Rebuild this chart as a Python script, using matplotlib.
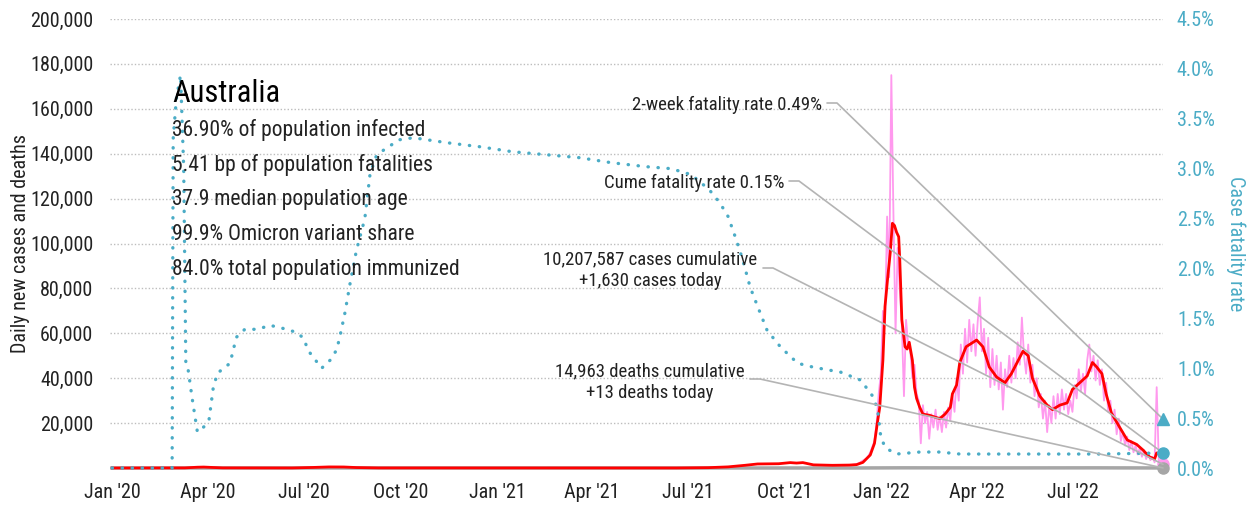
import matplotlib
matplotlib.use('Agg')
import matplotlib.pyplot as plt
import matplotlib.dates as mdates
import matplotlib.ticker as mticker
import pandas as pd

plt.rcParams['font.family'] = ['Roboto Condensed', 'Archivo Narrow', 'Barlow Semi Condensed', 'DejaVu Sans']

# --- data ---
end_date = '2022-09-25'

# 7-day average of new cases (red)
avg_dates = ['2020-01-01', '2020-03-10', '2020-03-22', '2020-03-28', '2020-04-05', '2020-04-15',
             '2020-06-20', '2020-07-10', '2020-07-25', '2020-08-08', '2020-08-20', '2020-09-10',
             '2021-06-20', '2021-07-20', '2021-08-08', '2021-08-24', '2021-09-05', '2021-09-25',
             '2021-10-06', '2021-10-12', '2021-10-18', '2021-10-28', '2021-11-15', '2021-12-01',
             '2021-12-08', '2021-12-14', '2021-12-21', '2021-12-25', '2021-12-28', '2021-12-30',
             '2022-01-02', '2022-01-04', '2022-01-07', '2022-01-09', '2022-01-11', '2022-01-13',
             '2022-01-15', '2022-01-17', '2022-01-18', '2022-01-20', '2022-01-23', '2022-01-25',
             '2022-01-27', '2022-01-30', '2022-02-01', '2022-02-03', '2022-02-06', '2022-02-09',
             '2022-02-15', '2022-02-25', '2022-03-02', '2022-03-07', '2022-03-09', '2022-03-13',
             '2022-03-16', '2022-03-22', '2022-04-01', '2022-04-07', '2022-04-13', '2022-04-20',
             '2022-04-28', '2022-05-04', '2022-05-15', '2022-05-20', '2022-05-24', '2022-05-31',
             '2022-06-07', '2022-06-12', '2022-06-19', '2022-06-26', '2022-07-01', '2022-07-08',
             '2022-07-15', '2022-07-20', '2022-07-24', '2022-07-29', '2022-08-02', '2022-08-07',
             '2022-08-15', '2022-08-22', '2022-08-31', '2022-09-06', '2022-09-12', '2022-09-17',
             '2022-09-19', '2022-09-25']
avg_cases = [0, 50, 350, 420, 250, 60,
             20, 250, 480, 450, 200, 40,
             15, 150, 500, 1200, 1800, 1900,
             2400, 2200, 2400, 1400, 1200, 1300,
             1500, 2500, 5800, 11000, 21000, 27000,
             48000, 72000, 87000, 96000, 109000, 108000,
             105000, 103000, 93000, 66000, 54000, 53000,
             56000, 48000, 36000, 31000, 27000, 24000,
             23500, 22000, 24000, 27000, 33000, 37000,
             47000, 54000, 57000, 54000, 45000, 40500,
             38000, 42000, 52000, 50000, 40000, 32000,
             28000, 26000, 28000, 29000, 35000, 38000,
             41000, 47000, 45000, 42000, 33000, 24500,
             18000, 12500, 10500, 8000, 5000, 4000,
             6700, 6200]

# daily new cases (pink), every second day from 2021-12-01, in thousands
daily_start = '2021-12-01'
daily_cases_k = [1.2, 1.3, 1.5, 1.6, 1.9, 2.4, 3.0, 3.6, 4.2, 5.2,       # Dec 1 - Dec 19
                 7.0, 9.5, 12, 20, 33, 42, 70, 64, 112, 85,             # Dec 21 - Jan 8
                 175, 113, 60, 98, 80, 63, 32, 66, 55, 52,              # Jan 10 - Jan 28
                 40, 46, 33, 30, 11, 28, 20, 25, 13, 24,                # Jan 30 - Feb 17
                 18, 26, 17, 23, 16, 25, 18, 27, 21, 33,                # Feb 19 - Mar 9
                 25, 40, 30, 55, 42, 62, 47, 66, 52, 64,                # Mar 11 - Mar 29
                 50, 65, 76, 52, 62, 42, 58, 36, 53, 37,                # Mar 31 - Apr 18
                 50, 35, 47, 26, 44, 36, 50, 38, 49, 40,                # Apr 20 - May 8
                 56, 46, 67, 50, 42, 55, 38, 46, 32, 40,                # May 10 - May 28
                 27, 33, 22, 30, 16, 28, 20, 32, 22, 33,                # May 30 - Jun 17
                 24, 35, 26, 33, 24, 30, 25, 37, 31, 44,                # Jun 19 - Jul 7
                 34, 42, 33, 48, 55, 43, 50, 39, 48, 37,                # Jul 9 - Jul 27
                 44, 30, 38, 25, 30, 20, 26, 15, 22, 12,                # Jul 29 - Aug 16
                 16, 10, 14, 8, 12, 7, 10, 6, 9, 5,                     # Aug 18 - Sep 5
                 8, 4, 7, 3.5, 5, 2.5, 36, 3, 2, 1.63]                  # Sep 7 - Sep 25

# daily deaths (grey)
death_dates = ['2020-01-01', '2020-04-01', '2020-08-10', '2020-10-01', '2021-09-15',
               '2021-12-01', '2022-01-20', '2022-04-10', '2022-07-25', '2022-09-25']
deaths = [0, 3, 18, 2, 12, 2, 80, 40, 70, 13]

# case fatality rate, % (teal dotted)
cfr_dates = ['2020-01-01', '2020-02-27', '2020-02-28', '2020-03-02', '2020-03-06', '2020-03-09',
             '2020-03-11', '2020-03-13', '2020-03-15', '2020-03-17', '2020-03-22', '2020-03-29',
             '2020-04-02', '2020-04-06', '2020-04-10', '2020-04-22', '2020-04-28', '2020-05-06',
             '2020-05-18', '2020-05-30', '2020-06-11', '2020-06-24', '2020-07-01', '2020-07-05',
             '2020-07-18', '2020-07-26', '2020-08-01', '2020-08-04', '2020-08-09', '2020-08-14',
             '2020-08-20', '2020-08-28', '2020-09-02', '2020-09-08', '2020-09-14', '2020-09-21',
             '2020-09-30', '2020-10-13', '2020-11-14', '2020-12-15', '2021-01-15', '2021-02-16',
             '2021-03-20', '2021-04-19', '2021-05-22', '2021-06-15', '2021-07-04', '2021-07-21',
             '2021-07-31', '2021-08-08', '2021-08-16', '2021-08-22', '2021-08-29', '2021-09-05',
             '2021-09-14', '2021-09-27', '2021-10-13', '2021-10-28', '2021-11-23', '2021-12-12',
             '2021-12-24', '2021-12-28', '2021-12-31', '2022-01-04', '2022-01-08', '2022-01-15',
             '2022-02-06', '2022-02-25', '2022-03-16', '2022-04-23', '2022-07-27', '2022-09-25']
cfr = [0, 0, 3.3, 3.7, 3.94, 3.0,
       1.05, 1.0, 0.85, 0.7, 0.36, 0.42,
       0.48, 0.8, 0.95, 1.05, 1.31, 1.39,
       1.39, 1.43, 1.40, 1.36, 1.3, 1.18,
       1.0, 1.08, 1.18, 1.3, 1.55, 1.85,
       2.18, 2.5, 2.95, 3.13, 3.18, 3.23,
       3.29, 3.31, 3.26, 3.22, 3.17, 3.14,
       3.11, 3.06, 3.02, 3.0, 2.94, 2.79,
       2.66, 2.52, 2.28, 2.08, 1.81, 1.62,
       1.38, 1.21, 1.05, 1.01, 0.96, 0.88,
       0.71, 0.58, 0.31, 0.21, 0.18, 0.14,
       0.16, 0.16, 0.14, 0.14, 0.14, 0.15]

two_week_cfr = 0.49
cume_cfr = 0.15
cases_today = 1630
deaths_today = 13

title = 'Australia'
stats = ['36.90% of population infected',
         '5.41 bp of population fatalities',
         '37.9 median population age',
         '99.9% Omicron variant share',
         '84.0% total population immunized']

# --- styling ---
teal = '#4bacc6'
pink = '#ff99ee'
red = '#ff0000'
grey_line = '#b4b4b4'
grey_deaths = '#a6a6a6'
txt = '#222222'
fs = 14.5      # tick labels, axis titles
fs_note = 13.5  # leader line notes

W, H = 1251, 508
fig = plt.figure(figsize=(W / 100, H / 100), dpi=100)
ax = fig.add_axes([110 / W, (H - 468) / H, (1163 - 110) / W, (468 - 19) / H])
ax2 = ax.twinx()

end = pd.Timestamp(end_date)
daily_dates = pd.date_range(daily_start, periods=len(daily_cases_k), freq='2D')

ax.plot(pd.to_datetime(death_dates), deaths, color=grey_deaths, lw=2.5, clip_on=False, zorder=2)
ax.plot(daily_dates, [v * 1000 for v in daily_cases_k], color=pink, lw=1.3, zorder=3)
ax.plot(pd.to_datetime(avg_dates), avg_cases, color=red, lw=2, clip_on=False, zorder=4)
ax.plot([end], [cases_today], marker='o', ms=8, color=pink, clip_on=False, zorder=6)
ax.plot([end], [deaths_today], marker='o', ms=8, color=grey_deaths, clip_on=False, zorder=7)

ax2.plot(pd.to_datetime(cfr_dates), cfr, color=teal, lw=2.4, linestyle=(0, (0.1, 2.9)),
         dash_capstyle='round', clip_on=False)
ax2.plot([end], [two_week_cfr], marker='^', ms=9, color=teal, clip_on=False, zorder=6)
ax2.plot([end], [cume_cfr], marker='o', ms=8, color=teal, clip_on=False, zorder=6)

ax.set_xlim(pd.Timestamp('2019-12-30'), end)
ax.set_ylim(0, 200000)
ax2.set_ylim(0, 4.5)

ax.set_yticks(range(20000, 200001, 20000))
ax.yaxis.set_major_formatter(mticker.FuncFormatter(lambda v, p: f'{int(v):,}'))
ax2.set_yticks([i * 0.5 for i in range(10)])
ax2.yaxis.set_major_formatter(mticker.FuncFormatter(lambda v, p: f'{v:.1f}%'))
ax.xaxis.set_major_locator(mdates.MonthLocator(bymonth=[1, 4, 7, 10]))
ax.xaxis.set_major_formatter(mdates.DateFormatter("%b '%y"))

ax.grid(axis='y', color='#bdbdbd', lw=1, linestyle=(0, (1, 1.5)))
ax.set_axisbelow(True)
for a in (ax, ax2):
    for s in a.spines.values():
        s.set_visible(False)
ax.tick_params(axis='both', length=0, labelsize=fs, labelcolor=txt)
ax.tick_params(axis='y', pad=12)
ax.tick_params(axis='x', pad=11)
ax2.tick_params(axis='y', length=0, labelsize=fs, labelcolor=teal, pad=10)

ax.set_ylabel('Daily new cases and deaths', fontsize=fs, color=txt, labelpad=0)
ax2.set_ylabel('Case fatality rate', fontsize=fs, color=teal, rotation=270, labelpad=22)

# country block
fig.text(172 / W, 1 - 93 / H, title, fontsize=22, color='black', va='center')
for i, line in enumerate(stats):
    fig.text(172 / W, 1 - (130 + 34.8 * i) / H, line, fontsize=15.5, color=txt, va='center')

# annotations
fig.text(822 / W, 1 - 105 / H, f'2-week fatality rate {two_week_cfr:.2f}%', fontsize=fs_note,
         color=txt, ha='right', va='center')
fig.text(785 / W, 1 - 183 / H, f'Cume fatality rate {cume_cfr:.2f}%', fontsize=fs_note,
         color=txt, ha='right', va='center')
fig.text(650 / W, 1 - 270 / H, f'10,207,587 cases cumulative\n+{cases_today:,} cases today',
         fontsize=fs_note, color=txt, ha='center', va='center', linespacing=1.3)
fig.text(650 / W, 1 - 382 / H, f'14,963 deaths cumulative\n+{deaths_today} deaths today',
         fontsize=fs_note, color=txt, ha='center', va='center', linespacing=1.3)

arrow = dict(arrowstyle='-', color=grey_line, lw=1.2, shrinkA=0, shrinkB=0,
             connectionstyle='arc,angleA=0,armA=10,angleB=0,armB=0,rad=0')
ax2.annotate('', xy=(end, two_week_cfr), xytext=(827, H - 103), textcoords='figure pixels',
             arrowprops=arrow, annotation_clip=False)
ax2.annotate('', xy=(end, cume_cfr), xytext=(789, H - 181), textcoords='figure pixels',
             arrowprops=arrow, annotation_clip=False)
ax2.annotate('', xy=(end, cases_today * 4.5 / 200000), xytext=(763, H - 268),
             textcoords='figure pixels', arrowprops=arrow, annotation_clip=False)
ax2.annotate('', xy=(end, deaths_today * 4.5 / 200000), xytext=(750, H - 379),
             textcoords='figure pixels', arrowprops=arrow, annotation_clip=False)

fig.savefig('out.png', dpi=100)
